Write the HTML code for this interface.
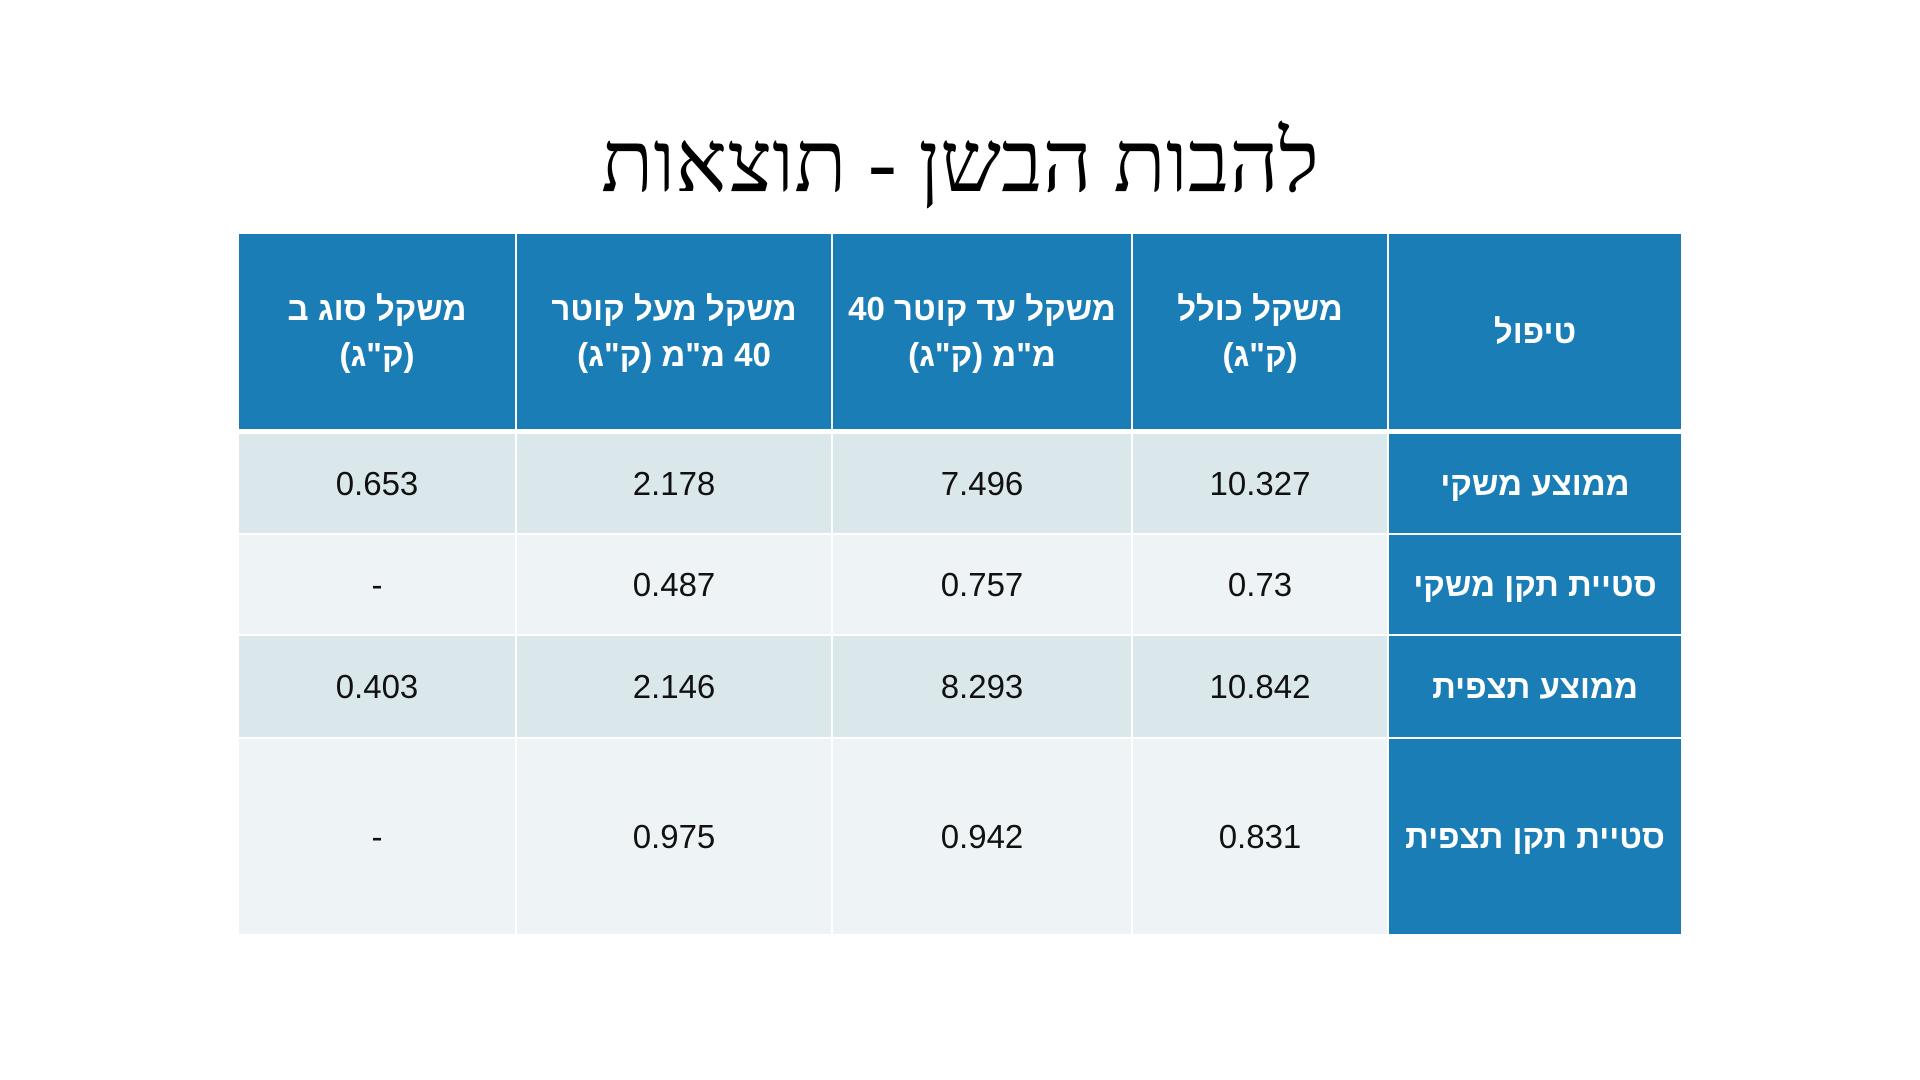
<!DOCTYPE html>
<html lang="he"><head><meta charset="utf-8">
<style>
body{margin:0;width:1920px;height:1080px;background:#fff;position:relative;overflow:hidden;font-family:"Liberation Sans","DejaVu Sans",sans-serif;}
.title{position:absolute;left:0;width:1920px;top:112px;text-align:center;font-family:"Liberation Serif","DejaVu Serif",serif;font-size:86px;color:#000;direction:rtl;line-height:100px;}
.c{position:absolute;display:flex;align-items:center;justify-content:center;text-align:center;box-sizing:border-box;font-size:33px;color:#111;direction:rtl;line-height:46px;}
.h{background:#1a7db5;color:#fff;font-weight:bold;}
.o{background:#dae8ec;}
.e{background:#eef4f6;}
</style></head><body>
<div class="title">להבות הבשן - תוצאות</div>
<div id="t"></div>
<script>
const cols=[239,515,831,1131,1387,1681];
const rows=[[234,429],[434,533],[535,634],[636,737],[739,934]];
const header=['משקל סוג ב<br>(ק"ג)','משקל מעל קוטר<br>40 מ"מ (ק"ג)','משקל עד קוטר 40<br>מ"מ (ק"ג)','משקל כולל<br>(ק"ג)','טיפול'];
const labels=['ממוצע משקי','סטיית תקן משקי','ממוצע תצפית','סטיית תקן תצפית'];
const typeB=['0.653','-','0.403','-'];
const above40=['2.178','0.487','2.146','0.975'];
const upTo40=['7.496','0.757','8.293','0.942'];
const total=['10.327','0.73','10.842','0.831'];
const t=document.getElementById('t');
function cell(r,c,html,cls,name){
  const d=document.createElement('div');
  d.className='c '+cls;
  d.style.left=(cols[c]+(c>0?2:0))+'px';
  d.style.width=(cols[c+1]-cols[c]-(c>0?2:0))+'px';
  d.style.top=rows[r][0]+'px';
  d.style.height=(rows[r][1]-rows[r][0])+'px';
  d.innerHTML=html;
  
  
  t.appendChild(d);
}
header.forEach((h,i)=>cell(0,i,h,'h','header-cell'));
for(let r=0;r<4;r++){
  const cls=r%2?'e':'o';
  cell(r+1,0,typeB[r],cls,'type-b-cell');
  cell(r+1,1,above40[r],cls,'above-40-cell');
  cell(r+1,2,upTo40[r],cls,'up-to-40-cell');
  cell(r+1,3,total[r],cls,'total-cell');
  cell(r+1,4,labels[r],'h','row-label');
}
</script>
</body></html>
